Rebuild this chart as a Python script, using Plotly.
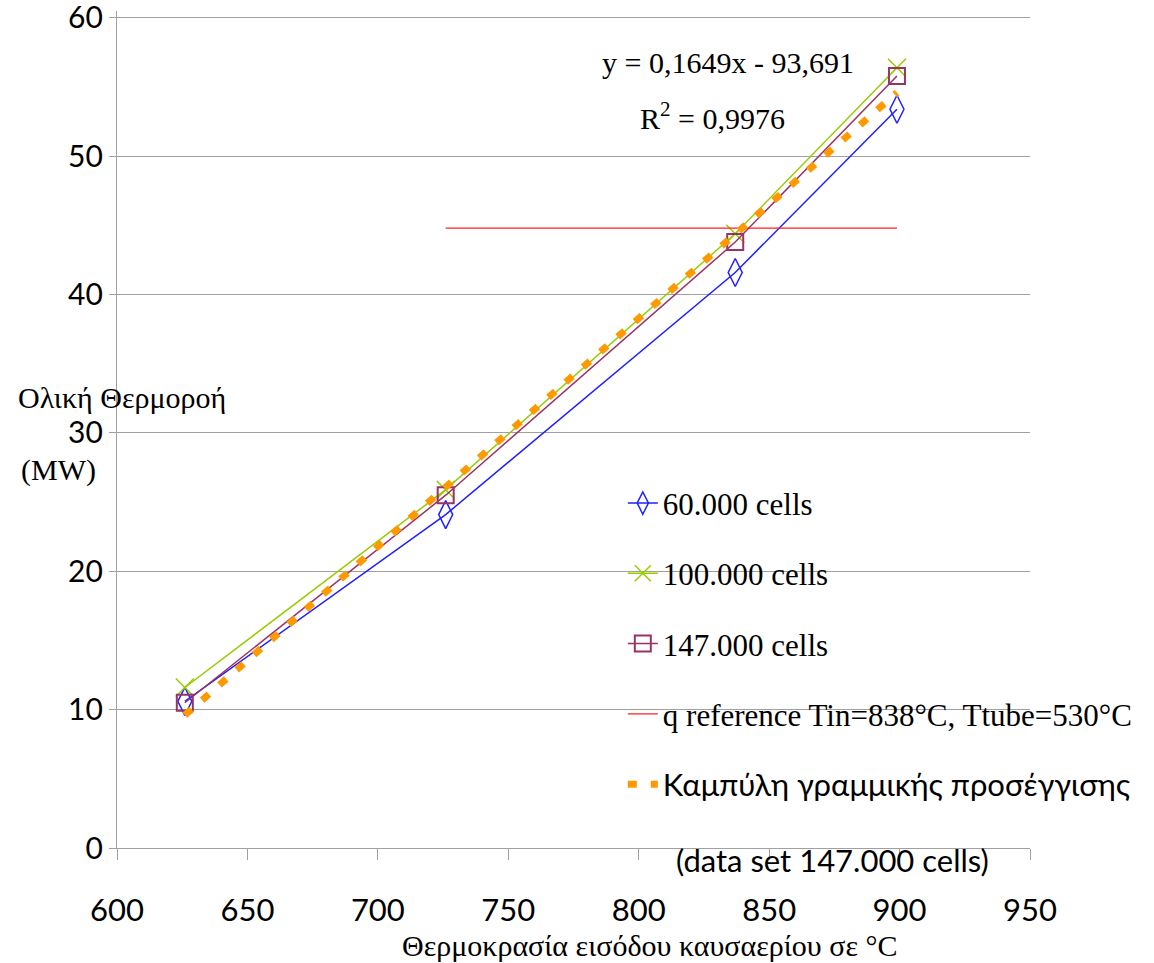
import plotly.graph_objects as go

# ---- data ----
temps = [626, 726, 837, 899]
q_60k = [10.6, 24.1, 41.6, 53.4]
q_100k = [11.6, 25.9, 44.4, 56.4]
q_147k = [10.5, 25.5, 43.8, 55.8]
ref_x = [726, 899]
ref_y = [44.8, 44.8]
trend_x = [626, 899]
trend_y = [9.6, 54.6]

x_ticks = [600, 650, 700, 750, 800, 850, 900, 950]
y_ticks = [0, 10, 20, 30, 40, 50, 60]

SERIF = "Liberation Serif, Times New Roman, serif"
SANS = "Lato, 'Open Sans', sans-serif"

names = ["60.000 cells", "100.000 cells", "147.000 cells",
         "q reference Tin=838°C, Ttube=530°C",
         "<span style=\"font-family:Lato, 'Open Sans', sans-serif\">Καμπύλη γραμμικής προσέγγισης</span>"]

fig = go.Figure()
fig.add_trace(go.Scatter(x=temps, y=q_60k, name=names[0], mode="lines+markers",
                         line=dict(color="#1f1fff", width=1.5),
                         marker=dict(symbol="diamond-tall-open", size=20, color="#1f1fff",
                                     line=dict(width=1.5, color="#1f1fff")),
                         legendgroup="a"))
fig.add_trace(go.Scatter(x=temps, y=q_100k, name=names[1], mode="lines+markers",
                         line=dict(color="#99cc00", width=1.5),
                         marker=dict(symbol="x-thin-open", size=18, color="#99cc00",
                                     line=dict(width=1.5, color="#99cc00")),
                         legendgroup="b"))
fig.add_trace(go.Scatter(x=temps, y=q_147k, name=names[2], mode="lines+markers",
                         line=dict(color="#993366", width=1.5),
                         marker=dict(symbol="square-open", size=16, color="#993366",
                                     line=dict(width=2, color="#993366")),
                         legendgroup="c"))
fig.add_trace(go.Scatter(x=ref_x, y=ref_y, name=names[3], mode="lines",
                         line=dict(color="#ff2020", width=1.2),
                         legendgroup="d"))
fig.add_trace(go.Scatter(x=trend_x, y=trend_y, name=names[4], mode="lines",
                         line=dict(color="#ff9900", width=7, dash="9px,14px"),
                         legendgroup="e"))

axis_common = dict(showline=True, linecolor="#a0a0a0", linewidth=1.3,
                   ticks="outside", tickcolor="#a0a0a0", tickwidth=1.3,
                   zeroline=False, ticklabeloverflow="allow", automargin=False)

fig.update_xaxes(range=[600, 950], tickvals=x_ticks, showgrid=False, ticklen=11,
                 ticklabelstandoff=24, tickfont=dict(family=SANS, size=31, color="black"),
                 **axis_common)
fig.update_yaxes(range=[0, 60.5], tickvals=y_ticks, showgrid=True, gridcolor="#a0a0a0",
                 gridwidth=1.3, ticklen=7, tickfont=dict(family=SANS, size=30, color="black"),
                 **axis_common)

L, R, T, B = 117, 1030, 11, 848

fig.update_layout(
    width=1154, height=963,
    margin=dict(l=L, r=1154 - R, t=T, b=963 - B, autoexpand=False),
    paper_bgcolor="white", plot_bgcolor="white",
    font=dict(family=SERIF, color="black", size=29),
    legend=dict(x=0.554, y=0.444, xanchor="left", yanchor="top",
                font=dict(family=SERIF, size=31, color="black"),
                bgcolor="rgba(0,0,0,0)", tracegroupgap=27),
    showlegend=True,
)


def px(x):
    return (x - L) / (R - L)


def py(y):
    return (B - y) / (B - T)


annots = [
    dict(text="Ολική Θερμοροή", x=122, y=397),
    dict(text="(MW)", x=58, y=470),
    dict(text="Θερμοκρασία εισόδου καυσαερίου σε °C", x=650, y=945),
    dict(text="y = 0,1649x - 93,691", x=728, y=62),
    dict(text="R<sup>2</sup> = 0,9976", x=712, y=116),
]
for a in annots:
    fig.add_annotation(text=a["text"], xref="paper", yref="paper",
                       x=px(a["x"]), y=py(a["y"]),
                       xanchor="center", yanchor="middle", showarrow=False,
                       font=dict(family=SERIF, size=30, color="black"))
fig.add_annotation(text="(data set 147.000 cells)", xref="paper", yref="paper",
                   x=px(832), y=py(860), xanchor="center", yanchor="middle",
                   showarrow=False, font=dict(family=SANS, size=31, color="black"))

fig.write_html("out.html")
